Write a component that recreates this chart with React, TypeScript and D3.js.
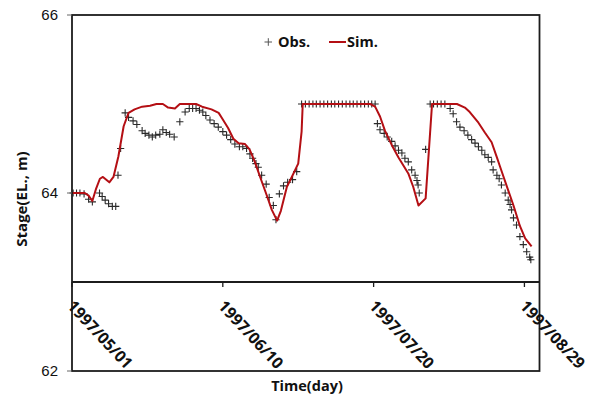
import React from "react";
import * as d3 from "d3";

const obsDay = [0.3,1.2,2.1,3.2,4.4,5.4,7.3,8.0,8.8,9.7,10.7,11.6,12.2,12.9,14.1,15.0,16.2,17.2,18.6,19.4,20.4,21.3,22.2,23.3,24.1,25.0,25.9,27.1,28.6,30.0,31.1,32.0,32.9,33.8,34.7,35.5,36.6,37.7,38.8,40.0,41.0,42.1,43.2,44.4,45.3,46.3,47.2,47.9,48.8,49.4,50.3,51.5,52.3,53.4,54.1,55.0,56.1,57.2,58.5,59.6,
  60.9,61.9,62.9,63.9,64.8,65.8,66.8,67.8,68.8,69.7,70.7,71.7,72.7,73.7,74.6,75.6,76.6,77.6,78.6,79.5,80.4,
  81.0,81.7,82.8,83.6,84.8,85.7,86.6,87.5,88.3,89.2,90.1,91.0,91.5,91.8,92.1,93.8,95.0,95.9,96.9,97.9,98.9,
  100.3,101.1,102.0,102.9,104.0,105.0,106.0,106.9,107.8,108.7,109.5,110.4,111.3,111.7,112.7,113.3,113.9,114.9,115.7,116.2,116.6,117.1,117.9,118.8,119.7,120.6,121.4,121.7];
const obsStage = [64.00,64.00,64.00,63.99,63.93,63.90,64.00,63.96,63.92,63.88,63.85,63.85,64.20,64.50,64.90,64.85,64.81,64.77,64.70,64.67,64.65,64.63,64.65,64.66,64.71,64.68,64.66,64.63,64.80,64.91,64.95,64.95,64.95,64.93,64.91,64.87,64.82,64.78,64.74,64.69,64.65,64.60,64.55,64.52,64.52,64.50,64.44,64.39,64.33,64.29,64.20,64.10,63.95,63.86,63.70,63.99,64.08,64.12,64.15,64.24,
  65.00,65.00,65.00,65.00,65.00,65.00,65.00,65.00,65.00,65.00,65.00,65.00,65.00,65.00,65.00,65.00,65.00,65.00,65.00,65.00,65.00,
  64.78,64.71,64.67,64.63,64.58,64.53,64.48,64.45,64.39,64.35,64.26,64.20,64.14,64.09,64.00,64.49,65.00,65.00,65.00,65.00,65.00,
  64.95,64.89,64.80,64.74,64.70,64.65,64.60,64.56,64.52,64.48,64.43,64.40,64.35,64.26,64.20,64.16,64.09,64.00,63.92,63.87,63.81,63.72,63.64,63.51,63.42,63.34,63.28,63.25];

const simDay = [0,3.4,4.4,5.4,6.4,7.4,8.2,9.9,11.0,12.3,13.7,15.0,16.6,18.6,20.7,22.4,24.1,25.5,27.3,28.6,32.9,34.5,37.0,38.9,39.8,41.4,42.8,44.2,45.9,47.1,48.5,49.9,51.6,53.0,54.4,55.4,57.0,58.3,60.0,60.9,61.2,79.1,80.4,81.7,83.0,84.8,86.6,87.9,89.2,90.5,91.9,93.8,95.5,102.1,104.2,105.5,107.8,109.5,111.3,112.7,113.5,115.7,117.1,118.8,120.2,121.9];
const simStage = [64.00,64.00,63.97,63.91,64.05,64.16,64.18,64.12,64.18,64.41,64.75,64.90,64.94,64.97,64.98,65.00,65.00,64.96,64.95,65.00,65.00,64.97,64.94,64.90,64.84,64.73,64.61,64.56,64.55,64.49,64.35,64.18,63.98,63.81,63.69,63.80,64.07,64.18,64.33,64.69,65.00,65.00,64.97,64.86,64.70,64.54,64.40,64.31,64.22,64.07,63.86,63.94,65.00,65.00,64.96,64.91,64.79,64.68,64.57,64.40,64.30,64.03,63.86,63.63,63.49,63.40];

const xTickDays = [0, 40, 80, 120];
const xTickLabels = ["1997/05/01", "1997/06/10", "1997/07/20", "1997/08/29"];
const yTicks = [62, 64, 66];

export default function App() {
  const W = 591, H = 398;
  const left = 72, right = 539.5, top = 15, bottom = 371;
  const x = d3.scaleLinear().domain([0, 124]).range([left, right]);
  const y = d3.scaleLinear().domain([62, 66]).range([bottom, top]);
  const axisY = y(63);
  const line = d3.line<number>().x((_, i) => x(simDay[i])).y((d) => y(d));
  const arm = 3.6;
  const crossPath = obsDay
    .map((d, i) => {
      const cx = x(d), cy = y(obsStage[i]);
      return `M${cx - arm},${cy}H${cx + arm}M${cx},${cy - arm}V${cy + arm}`;
    })
    .join("");
  const frameColor = "#1c1c1c";
  const font = "'Open Sans', 'Noto Sans', sans-serif";
  return (
    <svg width={W} height={H} style={{ position: "absolute", left: 0, top: 0, background: "#fff" }}>
      <rect x={0} y={0} width={W} height={H} fill="#fff" />
      {/* data */}
      <path d={crossPath} stroke="#2a2a2a" strokeWidth={1.1} fill="none" />
      <path d={line(simStage) || ""} stroke="#b40f14" strokeWidth={2} fill="none" strokeLinejoin="round" />
      {/* frame */}
      <rect x={left} y={top} width={right - left} height={bottom - top} fill="none" stroke={frameColor} strokeWidth={1.8} />
      <line x1={left} x2={right} y1={axisY} y2={axisY} stroke={frameColor} strokeWidth={1.8} />
      {xTickDays.map((d) => (
        <line key={d} x1={x(d)} x2={x(d)} y1={axisY} y2={axisY + 5} stroke={frameColor} strokeWidth={1.3} />
      ))}
      {yTicks.map((t) => (
        <g key={t}>
          <line x1={left - 5} x2={left} y1={y(t)} y2={y(t)} stroke="#666" strokeWidth={1} />
          <text x={left - 14} y={y(t)} dy="0.36em" textAnchor="end" fontFamily="'Liberation Sans', Arial, sans-serif" fontSize={15} fill="#111">
            {t}
          </text>
        </g>
      ))}
      {xTickDays.map((d, i) => (
        <text
          key={d}
          transform={`translate(${x(d) + 3},${axisY + 17}) rotate(47)`}
          fontFamily={font}
          fontWeight="bold"
          fontSize={16}
          fill="#111"
          dy="0.72em"
        >
          {xTickLabels[i]}
        </text>
      ))}
      <text x={307} y={391} textAnchor="middle" fontFamily={font} fontWeight="bold" fontSize={14.5} fill="#111">
        Time(day)
      </text>
      <text transform={`translate(27,199) rotate(-90)`} textAnchor="middle" fontFamily={font} fontWeight="bold" fontSize={15} fill="#111">
        Stage(EL., m)
      </text>
      {/* legend */}
      <path d={`M${264.5},42H${272}M268.3,38.2V45.8`} stroke="#555" strokeWidth={1} />
      <text x={278} y={47} fontFamily={font} fontWeight="bold" fontSize={14.5} fill="#111">Obs.</text>
      <line x1={329} x2={346} y1={42} y2={42} stroke="#b40f14" strokeWidth={2} />
      <text x={347} y={47} fontFamily={font} fontWeight="bold" fontSize={14.5} fill="#111">Sim.</text>
    </svg>
  );
}
